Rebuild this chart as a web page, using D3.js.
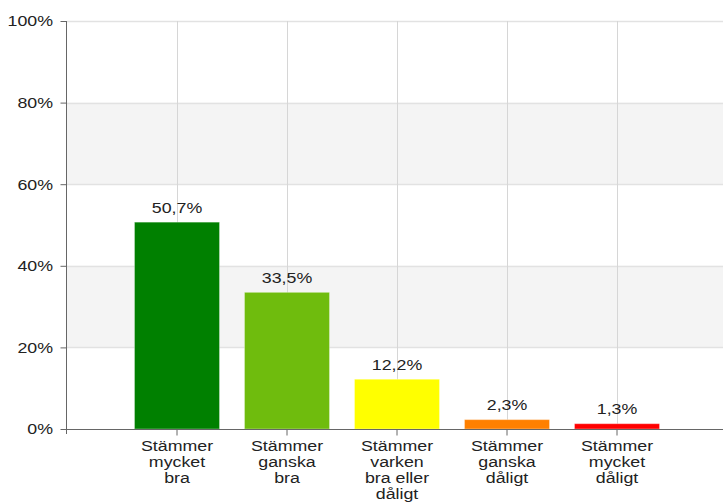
<!DOCTYPE html>
<html>
<head>
<meta charset="utf-8">
<script src="https://cdn.jsdelivr.net/npm/d3@7"></script>
<style>
  html, body { margin: 0; padding: 0; background: #fff; }
  svg { display: block; }
  text { font-family: "Liberation Sans", Arial, sans-serif; fill: #222; }
</style>
</head>
<body>
<svg id="chart" width="723" height="503"></svg>
<script>
// Response categories (each line of the label is a separate entry)
const categories = [
  ["Stämmer", "mycket", "bra"],
  ["Stämmer", "ganska", "bra"],
  ["Stämmer", "varken", "bra eller", "dåligt"],
  ["Stämmer", "ganska", "dåligt"],
  ["Stämmer", "mycket", "dåligt"]
];
const values = [50.7, 33.5, 12.2, 2.3, 1.3];
const valueLabels = ["50,7%", "33,5%", "12,2%", "2,3%", "1,3%"];
const barColors = ["#008000", "#6fbc0d", "#ffff00", "#ff8000", "#ff0000"];
const yTicks = [0, 20, 40, 60, 80, 100];

const FONT_SIZE = 14;
const STRETCH = 1.27;   // wide rendering of the label font

const svg = d3.select("#chart");
const plot = { left: 67, right: 723, top: 21, bottom: 429 };

const keys = categories.map(c => c.join(" "));
const x = d3.scaleBand()
  .domain(keys)
  .range([122, 672])
  .paddingInner(0.227)
  .paddingOuter(0.1135);

const y = d3.scaleLinear().domain([0, 100]).range([plot.bottom, plot.top]);

// Alternating background bands
const bands = d3.pairs(yTicks).filter((_, i) => i % 2 === 1);
svg.append("g").selectAll("rect")
  .data(bands)
  .join("rect")
  .attr("x", plot.left)
  .attr("width", plot.right - plot.left)
  .attr("y", d => y(d[1]))
  .attr("height", d => y(d[0]) - y(d[1]))
  .attr("fill", "#f4f4f4");

// Horizontal grid lines
svg.append("g").selectAll("line")
  .data(yTicks.slice(1))
  .join("line")
  .attr("x1", plot.left).attr("x2", plot.right)
  .attr("y1", d => Math.round(y(d)) + 0.5).attr("y2", d => Math.round(y(d)) + 0.5)
  .attr("stroke", "#e2e2e2").attr("stroke-width", 1.5);

// Vertical grid lines at category centres
svg.append("g").selectAll("line")
  .data(keys)
  .join("line")
  .attr("x1", d => Math.round(x(d) + x.bandwidth() / 2) + 0.5)
  .attr("x2", d => Math.round(x(d) + x.bandwidth() / 2) + 0.5)
  .attr("y1", plot.top).attr("y2", plot.bottom)
  .attr("stroke", "#d6d6d6").attr("stroke-width", 1);

// Bars
svg.append("g").selectAll("rect")
  .data(values)
  .join("rect")
  .attr("x", (d, i) => x(keys[i]))
  .attr("width", x.bandwidth())
  .attr("y", d => y(d))
  .attr("height", d => y(0) - y(d))
  .attr("fill", (d, i) => barColors[i])
  .attr("stroke", "rgba(255,255,255,0.35)")
  .attr("stroke-width", 1);

// Value labels above bars
svg.append("g").selectAll("text")
  .data(values)
  .join("text")
  .attr("transform", (d, i) =>
    `translate(${x(keys[i]) + x.bandwidth() / 2},${y(d) - 9.5}) scale(${STRETCH},1)`)
  .attr("text-anchor", "middle")
  .attr("font-size", FONT_SIZE)
  .text((d, i) => valueLabels[i]);

// Y axis
const yAxis = svg.append("g")
  .attr("transform", `translate(${plot.left - 0.5},0)`)
  .call(d3.axisLeft(y).tickValues(yTicks).tickFormat(d => d + "%").tickSize(6).tickSizeOuter(0));
yAxis.select(".domain").attr("stroke", "#666").attr("d", `M0,${plot.top}V${plot.bottom + 5}`);
yAxis.selectAll(".tick line").attr("stroke", "#666");
yAxis.selectAll(".tick text")
  .attr("font-size", FONT_SIZE)
  .attr("x", null).attr("dy", null)
  .attr("transform", `translate(-13.5,4.8) scale(${STRETCH},1)`)
  .attr("fill", "#222")
  .style("font-family", "'Liberation Sans', Arial, sans-serif");

// X axis
const xAxis = svg.append("g")
  .attr("transform", `translate(0,${plot.bottom + 0.5})`)
  .call(d3.axisBottom(x).tickSize(6).tickSizeOuter(0).tickFormat(""));
xAxis.select(".domain").attr("stroke", "#666").attr("d", `M${plot.left - 1},0H${plot.right}`);
xAxis.selectAll(".tick line").attr("stroke", "#666");

// Multi-line category labels
xAxis.selectAll(".tick").each(function(d, i) {
  const t = d3.select(this).append("text")
    .attr("text-anchor", "middle")
    .attr("transform", `scale(${STRETCH},1)`)
    .attr("font-size", FONT_SIZE)
    .attr("fill", "#222")
    .style("font-family", "'Liberation Sans', Arial, sans-serif");
  categories[i].forEach((line, j) => {
    t.append("tspan").attr("x", 0).attr("y", 22 + j * 16).text(line);
  });
});
</script>
</body>
</html>
